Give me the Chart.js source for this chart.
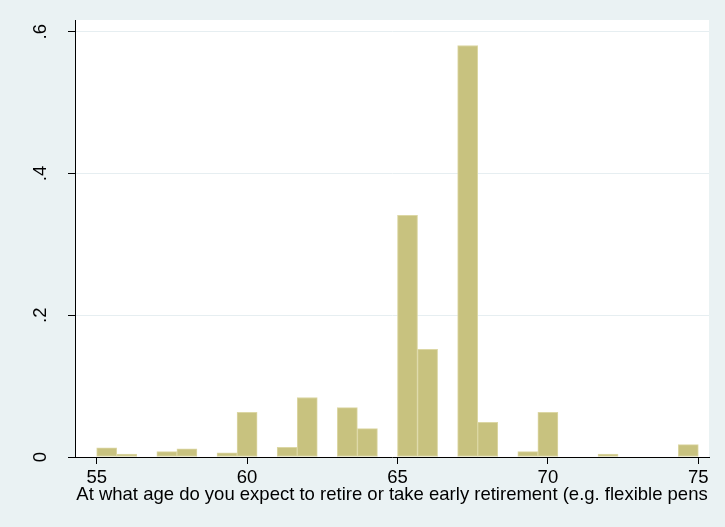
<!DOCTYPE html>
<html>
<head>
<meta charset="utf-8">
<title>Expected retirement age</title>
<script src="https://cdn.jsdelivr.net/npm/chart.js@4.4.1/dist/chart.umd.min.js"></script>
<style>
  html, body { margin: 0; padding: 0; background: #eaf2f3; }
  #wrap { width: 725px; height: 527px; }
</style>
</head>
<body>
<div id="wrap"><canvas id="hist"></canvas></div>
<script>
'use strict';

// Histogram bins (density scale), bin width 2/3 of a year; empty bins left out
const binCenters = [55.333, 56.0, 57.333, 58.0, 59.333, 60.0, 61.333, 62.0, 63.333, 64.0,
                    65.333, 66.0, 67.333, 68.0, 69.333, 70.0, 72.0, 74.667];
const density    = [0.013, 0.004, 0.0075, 0.0117, 0.006, 0.063, 0.0137, 0.084, 0.0696, 0.040,
                    0.341, 0.152, 0.5805, 0.049, 0.0075, 0.063, 0.0042, 0.0174];
const xTicks = [55, 60, 65, 70, 75];
const yTicks = [0, 0.2, 0.4, 0.6];
const xTitle = 'At what age do you expect to retire or take early retirement (e.g. flexible pens';

const THEME = {
  page:    '#eaf2f3',
  plot:    '#ffffff',
  grid:    '#e6eef1',
  axis:    '#000000',
  barFill: '#c8c27f',
  barLine: '#dcd7a4',
};
const FONT = { family: '"Liberation Sans", Arial, sans-serif', size: 18.5 };

Chart.defaults.font.family = FONT.family;
Chart.defaults.color = THEME.axis;

// Stata-style labels: .2 rather than 0.2
const fmtTick = v => (v === 0 ? '0' : String(v).replace(/^0/, ''));

// ── Page and plot-region fills ────────────────
const backgroundFill = {
  id: 'backgroundFill',
  beforeDraw(chart) {
    const { ctx, chartArea: a } = chart;
    ctx.save();
    ctx.fillStyle = THEME.page;
    ctx.fillRect(0, 0, chart.width, chart.height);
    ctx.fillStyle = THEME.plot;
    ctx.fillRect(a.left, a.top, a.right - a.left, a.bottom - a.top);
    ctx.restore();
  },
};

// ── Vertical y tick labels (reading bottom to top) ──
const rotatedYLabels = {
  id: 'rotatedYLabels',
  afterDraw(chart) {
    const { ctx } = chart;
    const y = chart.scales.y;
    const x = y.right - 29.5;
    ctx.save();
    ctx.fillStyle = THEME.axis;
    ctx.font = `${FONT.size}px ${FONT.family}`;
    ctx.textAlign = 'center';
    ctx.textBaseline = 'alphabetic';
    yTicks.forEach(v => {
      ctx.save();
      ctx.translate(x, y.getPixelForValue(v));
      ctx.rotate(-Math.PI / 2);
      ctx.fillText(fmtTick(v), 0, 0);
      ctx.restore();
    });
    ctx.restore();
  },
};

new Chart(document.getElementById('hist'), {
  type: 'bar',
  data: {
    datasets: [{
      data: binCenters.map((c, i) => ({ x: c, y: density[i] })),
      backgroundColor: THEME.barFill,
      borderColor: THEME.barLine,
      borderWidth: 1,
      borderSkipped: false,
      barPercentage: 1,
      categoryPercentage: 1,
    }],
  },
  options: {
    responsive: true,
    maintainAspectRatio: false,
    animation: false,
    devicePixelRatio: 1,
    layout: { padding: { top: 20, right: 16, bottom: 0, left: 0 } },
    plugins: { legend: { display: false }, tooltip: { enabled: false } },
    scales: {
      x: {
        type: 'linear',
        offset: false,
        min: 54.279,
        max: 75.356,
        afterBuildTicks: s => { s.ticks = xTicks.map(v => ({ value: v })); },
        afterFit: s => { s.height = 70; },
        grid: { offset: false, drawOnChartArea: false, tickLength: 7, tickColor: THEME.axis, tickWidth: 1 },
        border: { color: THEME.axis, width: 1 },
        ticks: { color: THEME.axis, font: FONT, padding: 3, maxRotation: 0, autoSkip: false },
        title: {
          display: true,
          text: xTitle,
          color: THEME.axis,
          font: FONT,
          padding: { top: 0, bottom: 20.6 },
        },
      },
      y: {
        min: 0,
        max: 0.6165,
        afterBuildTicks: s => { s.ticks = yTicks.map(v => ({ value: v })); },
        afterFit: s => { s.width = 75; },
        grid: { color: THEME.grid, lineWidth: 1, tickLength: 7, tickColor: THEME.axis, tickWidth: 1 },
        border: { color: THEME.axis, width: 1 },
        ticks: { display: false },
      },
    },
  },
  plugins: [backgroundFill, rotatedYLabels],
});
</script>
</body>
</html>
